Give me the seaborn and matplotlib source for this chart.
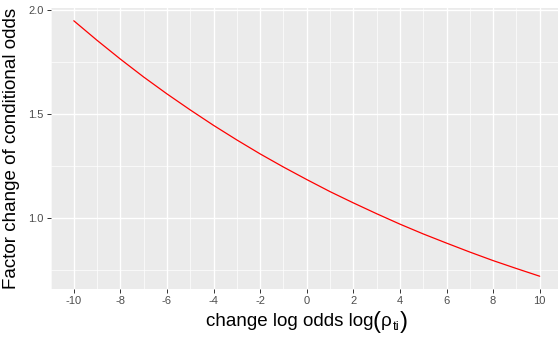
import numpy as np
import pandas as pd
import matplotlib
matplotlib.use("Agg")
import matplotlib.pyplot as plt
import seaborn as sns

# change in log odds and the resulting factor change of the conditional odds
log_rho = [-10, -9, -8, -7, -6, -5, -4, -3, -2, -1, 0,
           1, 2, 3, 4, 5, 6, 7, 8, 9, 10]
factor = [1.946, 1.852, 1.762, 1.676, 1.595, 1.518, 1.444, 1.374, 1.307,
          1.244, 1.184, 1.126, 1.072, 1.020, 0.970, 0.923, 0.879, 0.836,
          0.795, 0.757, 0.720]
x_ticks = [-10, -8, -6, -4, -2, 0, 2, 4, 6, 8, 10]
y_ticks = [1.0, 1.5, 2.0]

df = pd.DataFrame({"log_rho": log_rho, "factor": factor})

sns.set_theme(style="darkgrid")
plt.rcParams["font.family"] = ["Liberation Sans", "DejaVu Sans"]

W, H = 558, 338
fig = plt.figure(figsize=(W / 100, H / 100), dpi=100)
left, right, top, bottom = 50.5, 563.0, 8.0, 289.0
ax = fig.add_axes([left / W, 1 - bottom / H, (right - left) / W, (bottom - top) / H])
ax.set_facecolor("#EBEBEB")

sns.lineplot(data=df, x="log_rho", y="factor", color="#FF0000",
             linewidth=0.9, ax=ax)

# ggplot-style 5% expansion of the data range
xr = max(log_rho) - min(log_rho)
yr = max(factor) - min(factor)
ax.set_xlim(min(log_rho) - 0.05 * xr, max(log_rho) + 0.05 * xr)
ax.set_ylim(min(factor) - 0.05 * yr, max(factor) + 0.05 * yr)

ax.set_xticks(x_ticks)
ax.set_xticklabels([str(v) for v in x_ticks])
ax.set_yticks(y_ticks)
ax.set_yticklabels([f"{v:.1f}" for v in y_ticks])
ax.set_xticks(np.arange(-11, 12, 2), minor=True)
ax.set_yticks([0.75, 1.25, 1.75], minor=True)

ax.grid(which="major", color="white", linewidth=1.0)
ax.grid(which="minor", color="white", linewidth=0.5)
for s in ax.spines.values():
    s.set_visible(False)

ax.tick_params(axis="both", which="major", length=3, width=0.7,
               color="#333333", labelcolor="#4D4D4D", labelsize=8, pad=2,
               bottom=True, left=True)
ax.tick_params(axis="both", which="minor", length=0)
ax.set_xlabel("")
ax.set_ylabel("")

# y axis title
fig.text(12 / W, 1 - 148.5 / H, "Factor change of conditional odds",
         rotation=90, ha="center", va="center", fontsize=13.5, color="black")

# x axis title, built from pieces: text, large parentheses, rho with subscript
pieces = [
    ("change log odds log", 13.5, 0.0),
    ("(", 17.0, -2.0),
    ("\u03c1", 13.5, 0.0),
    ("ti", 9.5, -4.0),
    (")", 17.0, -2.0),
]
renderer = fig.canvas.get_renderer()
widths = []
for txt, fs, _ in pieces:
    t = fig.text(0, 0, txt, fontsize=fs)
    widths.append(t.get_window_extent(renderer).width)
    t.remove()
gaps = [0.0, 0.0, 1.0, 0.5]
total = sum(widths) + sum(gaps)
x = (left + right) / 2 - total / 2
baseline = 326.0
for i, (txt, fs, dy) in enumerate(pieces):
    fig.text(x / W, 1 - (baseline - dy) / H, txt, fontsize=fs,
             ha="left", va="baseline", color="black")
    x += widths[i] + (gaps[i] if i < len(gaps) else 0)

fig.savefig("out.png", dpi=100)
